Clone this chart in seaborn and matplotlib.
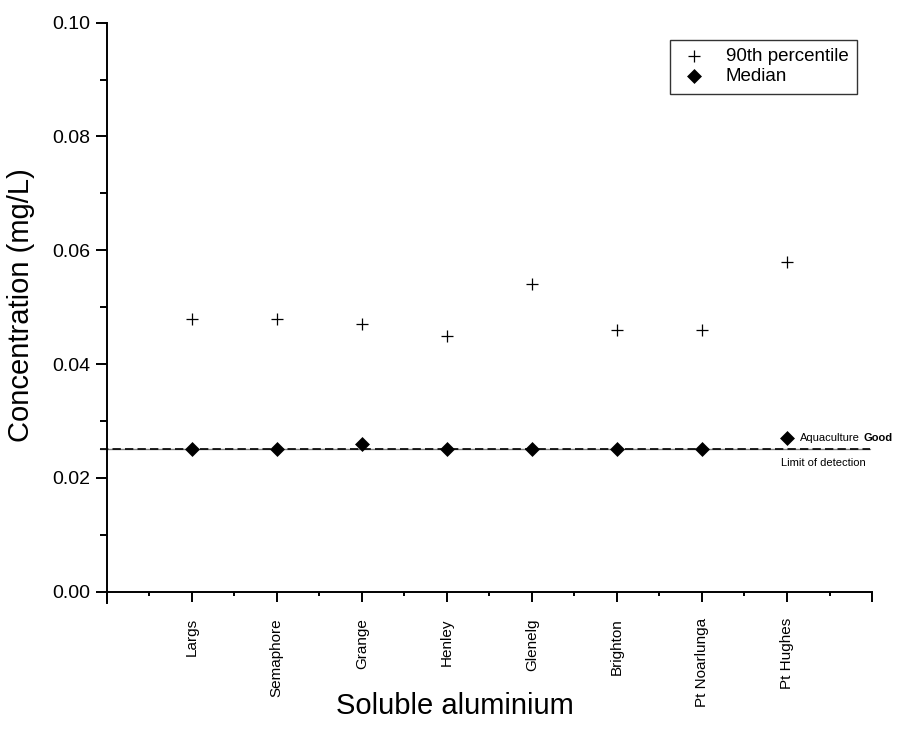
import numpy as np
import pandas as pd
import matplotlib
matplotlib.use("Agg")
import matplotlib.pyplot as plt
from matplotlib.ticker import FixedLocator, MultipleLocator
import seaborn as sns

# Soluble aluminium concentrations (mg/L) by sampling site
sites = ["Largs", "Semaphore", "Grange", "Henley", "Glenelg",
         "Brighton", "Pt Noarlunga", "Pt Hughes"]
p90 = [0.048, 0.048, 0.047, 0.045, 0.054, 0.046, 0.046, 0.058]
median = [0.025, 0.025, 0.026, 0.025, 0.025, 0.025, 0.025, 0.027]
y_ticks = [0.00, 0.02, 0.04, 0.06, 0.08, 0.10]
limit_of_detection = 0.025

sns.set_theme(style="ticks")
plt.rcParams["font.family"] = ["Liberation Sans", "DejaVu Sans"]
plt.rcParams.update({
    "text.color": "black",
    "axes.labelcolor": "black",
    "xtick.color": "black",
    "ytick.color": "black",
})

df = pd.DataFrame({
    "site": sites,
    "pos": np.arange(1, len(sites) + 1),
    "p90": p90,
    "median": median,
})

fig = plt.figure(figsize=(8.99, 7.42), dpi=100)
ax = fig.add_axes([0.1187, 0.2026, 0.8513, 0.7668])

# limit of detection: grey solid line under a black dashed one
ax.axhline(limit_of_detection, xmin=-0.009, xmax=0.997, color="0.5",
           lw=1.0, clip_on=False, zorder=1)
ax.axhline(limit_of_detection, xmin=-0.009, xmax=0.997, color="black",
           lw=1.2, dashes=(5, 2.5), clip_on=False, zorder=1)

sns.scatterplot(data=df, x="pos", y="p90", marker="+", s=74, color="black",
                linewidth=0.9, label="90th percentile", ax=ax, zorder=3)
sns.scatterplot(data=df, x="pos", y="median", marker="D", s=58,
                color="black", edgecolor="black", linewidth=0,
                label="Median", ax=ax, zorder=3)

ax.set_xlim(0, len(sites) + 1)
ax.set_ylim(y_ticks[0], y_ticks[-1])

ax.xaxis.set_major_locator(FixedLocator(range(0, len(sites) + 2)))
ax.set_xticklabels([""] + sites + [""], rotation=90)
ax.xaxis.set_minor_locator(MultipleLocator(0.5))
ax.set_yticks(y_ticks)
ax.set_yticklabels([f"{v:.2f}" for v in y_ticks])
ax.yaxis.set_minor_locator(MultipleLocator(0.01))

sns.despine(ax=ax)
for side in ("left", "bottom"):
    ax.spines[side].set_linewidth(1.4)
    ax.spines[side].set_color("black")
ax.spines["left"].set_bounds(-0.002, y_ticks[-1])

ax.tick_params(which="both", direction="out", color="black", width=1.4)
ax.tick_params(axis="y", which="major", length=8, labelsize=14, pad=4)
ax.tick_params(axis="y", which="minor", length=5)
ax.tick_params(axis="x", which="major", length=7, labelsize=11, pad=12)
ax.tick_params(axis="x", which="minor", length=3)

ax.set_ylabel("Concentration (mg/L)", fontsize=21)
ax.set_xlabel("Soluble aluminium", fontsize=21)
ax.yaxis.set_label_coords(-0.094, 0.504)
ax.xaxis.set_label_coords(0.455, -0.177)

leg = ax.legend(loc="upper right", bbox_to_anchor=(0.98, 0.97),
                borderaxespad=0, frameon=True, fancybox=False,
                edgecolor="black", fontsize=13.5, borderpad=0.45,
                handletextpad=0.9, labelspacing=0.15, handlelength=1.6)
leg.get_frame().set_linewidth(1.0)

# guideline note beside the Pt Hughes median
last = len(sites)
t1 = ax.annotate("Aquaculture", xy=(last, median[-1]), xytext=(9, 0),
                 textcoords="offset points", ha="left", va="center",
                 fontsize=8, annotation_clip=False)
ax.annotate("Good", xy=(1, 0.5), xycoords=t1, xytext=(3, 0),
            textcoords="offset points", ha="left", va="center",
            fontsize=8, fontweight="bold", annotation_clip=False)
ax.annotate("Limit of detection", xy=(last, limit_of_detection),
            xytext=(-4, -6), textcoords="offset points", ha="left",
            va="top", fontsize=8, annotation_clip=False)

fig.savefig("out.png", dpi=100)
